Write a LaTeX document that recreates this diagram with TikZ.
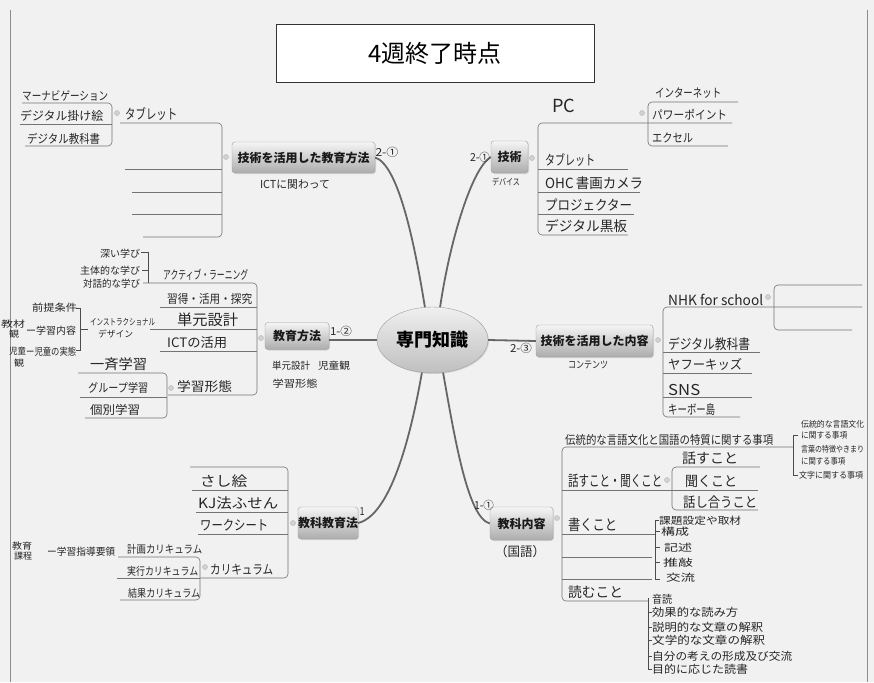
\documentclass[tikz,border=0pt]{standalone}
\usepackage{fontspec}
\usepackage{graphicx}
\usetikzlibrary{shapes.geometric,shadows}
\newfontfamily\jp{Noto Sans CJK JP}
\definecolor{bg}{RGB}{241,241,241}
\newcommand{\hwtext}[3]{\resizebox{#1pt}{\height}{\fontsize{#2}{#2}\selectfont\jp #3}}
\newcommand{\uitem}[6]{\node[hw] (#1) at (#2,#3) {\hwtext{#4}{#5}{#6}};}
\begin{document}
\begin{tikzpicture}[x=1pt,y=-1pt,
  tline/.style={draw=black!55,line width=0.6pt},
  bline/.style={draw=black!70,line width=0.6pt},
  cline/.style={draw=black!60,line width=1.8pt},
  hw/.style={anchor=base west,inner sep=0pt,text=black!85},
  lab/.style={inner sep=0pt,text=black!85},
  dotmark/.style={circle,fill=gray!35,draw=gray!60,line width=0.4pt,inner sep=0pt,minimum size=5pt},
  mnode/.style={draw=gray!75,rounded corners=3pt,top color=gray!8,bottom color=gray!65,inner sep=0pt,text=black!90,
    font=\jp\bfseries\fontsize{12}{12}\selectfont,drop shadow={opacity=0.25,shadow xshift=1pt,shadow yshift=-1pt}}]
\useasboundingbox (0,0) rectangle (874,682);
\fill[bg] (0,0) rectangle (874,682);
\draw[black!45,line width=0.8pt] (10,10) -- (10,682) (867,10) -- (867,682);

% title
\node[draw=black!80,fill=white,line width=0.8pt,minimum width=318pt,minimum height=58pt,inner sep=0pt,
  font=\jp\fontsize{24}{24}\selectfont] (title) at (435,53) {4週終了時点};

% central and main nodes
\node[ellipse,draw=gray!75,top color=gray!12,bottom color=gray!50,minimum width=111pt,minimum height=66pt,inner sep=0pt,
  font=\jp\bfseries\fontsize{18}{18}\selectfont,drop shadow={opacity=0.25,shadow xshift=1pt,shadow yshift=-1pt}] (ctr) at (432.5,340) {専門知識};
\node[mnode,minimum width=143pt,minimum height=31pt] (n1) at (303.5,157.5) {技術を活用した教育方法};
\node[mnode,minimum width=37pt,minimum height=32pt] (n2) at (509.5,157) {技術};
\node[mnode,minimum width=64pt,minimum height=27pt] (n3) at (297,336) {教育方法};
\node[mnode,minimum width=117pt,minimum height=32pt] (n4) at (594.5,341) {技術を活用した内容};
\node[mnode,minimum width=60pt,minimum height=32pt] (n5) at (328,523) {教科教育法};
\node[mnode,minimum width=63pt,minimum height=33pt] (n6) at (521.5,523.5) {教科内容};

% central connectors
\draw[cline] (n1.east) .. controls (398,165) and (414,240) .. (ctr.103);
\draw[cline] (n2.west) .. controls (472,168) and (450,240) .. (ctr.77);
\draw[cline] ([yshift=-4pt]n3.east) -- (ctr.west);
\draw[cline] (ctr.east) -- (n4.west);
\draw[cline] (ctr.252) .. controls (410,440) and (390,515) .. (n5.east);
\draw[cline] (ctr.288) .. controls (455,440) and (468,518) .. (n6.west);

% connector labels
\node[lab] (k1) at (387,152) {\hwtext{23}{11}{2-①}};
\node[lab] (k2) at (480,157) {\hwtext{20}{11}{2-①}};
\node[lab] (k3) at (341,331) {\hwtext{22}{11}{1-②}};
\node[lab] (k4) at (521,348) {\hwtext{22}{11}{2-③}};
\node[lab] (k5) at (362,512) {\hwtext{5}{11}{1}};
\node[lab] (k6) at (484,505) {\hwtext{20}{11}{1-①}};

% notes under main nodes
\node[lab] (u1) at (295,185) {\hwtext{70}{11}{ICTに関わって}};
\node[lab] (u2) at (506,182) {\hwtext{28}{9}{デバイス}};
\node[lab] (u3a) at (291,366) {\hwtext{38}{10}{単元設計}};
\node[lab] (u3b) at (334,366) {\hwtext{32}{10}{児童観}};
\node[lab] (u3c) at (295,384) {\hwtext{45}{10}{学習形態}};
\node[lab] (u4) at (588,365) {\hwtext{40}{10}{コンテンツ}};
\node[lab] (u6) at (520,552) {\hwtext{50}{13}{（国語）}};

% ---- A: 技術を活用した教育方法
\node[dotmark] (mA) at (226,157) {};
\draw[tline,rounded corners=4pt] (120,123) -- (222,123) -- (222,237) -- (143,237);
\draw[tline] (125,169) -- (222,169) (132,192) -- (222,192) (132,214) -- (222,214);
\uitem{a1}{125}{119}{52}{14}{タブレット}
\node[dotmark] (mA1) at (117,113) {};
\draw[tline,rounded corners=4pt] (22,103) -- (112,103) -- (112,146) -- (25,146);
\draw[tline] (20,124) -- (112,124);
\uitem{a11}{22}{100}{86}{12}{マーナビゲーション}
\uitem{a12}{20}{121}{83}{12}{デジタル掛け絵}
\uitem{a13}{27}{143}{73}{12}{デジタル教科書}

% ---- B: 技術
\node[dotmark] (mB) at (532,158) {};
\draw[tline,rounded corners=4pt] (732,123) -- (538,123) -- (538,235) -- (628,235);
\draw[tline] (538,169) -- (628,169) (538,192) -- (640,192) (538,214) -- (634,214);
\node[dotmark] (mB1) at (642,113) {};
\draw[tline,rounded corners=4pt] (738,102) -- (648,102) -- (648,146) -- (728,146);
\uitem{b1}{552}{113}{23}{18}{PC}
\uitem{b2}{545}{165}{50}{14}{タブレット}
\uitem{b3}{545}{188}{98}{14}{OHC\,書画カメラ}
\uitem{b4}{545}{210}{87}{14}{プロジェクター}
\uitem{b5}{545}{231}{82}{14}{デジタル黒板}
\uitem{b11}{655}{98}{66}{12}{インターネット}
\uitem{b12}{652}{119}{75}{12}{パワーポイント}
\uitem{b13}{652}{142}{41}{12}{エクセル}

% ---- C: 教育方法
\node[dotmark] (mC) at (261,338) {};
\draw[tline,rounded corners=4pt] (143,283) -- (257,283) -- (257,395) -- (168,395);
\draw[tline] (160,307) -- (257,307) (150,329) -- (257,329) (160,351) -- (257,351);
\uitem{c1}{163}{279}{85}{12}{アクティブ・ラーニング}
\uitem{c2}{167}{303}{85}{12}{習得・活用・探究}
\uitem{c3}{177}{325}{61}{15}{単元設計}
\uitem{c4}{167}{347}{60}{13}{ICTの活用}
\uitem{c5}{177}{391}{55}{13}{学習形態}
\draw[bline] (141,252) -- (148,252) -- (148,283) (142,270) -- (148,270);
\uitem{c11}{100}{257}{40}{10}{深い学び}
\uitem{c12}{80}{274}{60}{10}{主体的な学び}
\uitem{c13}{83}{287}{57}{10}{対話的な学び}
\uitem{c31}{90}{325}{65}{9}{インストラクショナル}
\uitem{c32}{98}{337}{35}{9}{デザイン}
\draw[bline] (76,308) -- (80,308) -- (80,350) -- (76,350);
\draw[bline] (80,329) -- (88,329);
\uitem{c311}{32}{311}{45}{10}{前提条件}
\uitem{c312}{26}{334}{50}{10}{ー学習内容}
\uitem{c313}{26}{355}{50}{10}{ー児童の実態}
\uitem{c314}{1}{327}{24}{9}{教材}
\uitem{c315}{9}{337}{10}{9}{観}
\uitem{c316}{9}{354}{17}{9}{児童}
\uitem{c317}{14}{366}{10}{9}{観}
\node[dotmark] (mC5) at (171,388) {};
\draw[tline,rounded corners=4pt] (78,373) -- (167,373) -- (167,418) -- (85,418);
\draw[tline] (80,397) -- (167,397);
\uitem{c51}{90}{369}{57}{14}{一斉学習}
\uitem{c52}{88}{392}{60}{12}{グループ学習}
\uitem{c53}{90}{414}{50}{12}{個別学習}

% ---- D: 技術を活用した内容
\node[dotmark] (mD) at (658,340) {};
\draw[tline,rounded corners=4pt] (862,307) -- (663,307) -- (663,417) -- (740,417);
\draw[tline] (663,352) -- (760,352) (663,373) -- (752,373) (663,397) -- (752,397);
\node[dotmark] (mD1) at (768,297) {};
\draw[tline,rounded corners=4pt] (862,285) -- (774,285) -- (774,330) -- (852,330);
\uitem{d1}{668}{305}{95}{14}{NHK for school}
\uitem{d2}{668}{349}{82}{14}{デジタル教科書}
\uitem{d3}{668}{369}{74}{13}{ヤフーキッズ}
\uitem{d4}{668}{395}{32}{15}{SNS}
\uitem{d5}{668}{414}{47}{13}{キーボー島}

% ---- E: 教科教育法
\node[dotmark] (mE) at (293,523) {};
\draw[tline,rounded corners=4pt] (190,467) -- (288,467) -- (288,578) -- (200,578);
\draw[tline] (192,490) -- (288,490) (196,512) -- (288,512) (198,534) -- (288,534);
\uitem{e1}{200}{486}{47}{14}{さし絵}
\uitem{e2}{198}{508}{80}{14}{KJ法ふせん}
\uitem{e3}{200}{530}{68}{14}{ワークシート}
\uitem{e4}{210}{574}{63}{13}{カリキュラム}
\node[dotmark] (mE4) at (205,567) {};
\draw[tline,rounded corners=4pt] (118,557) -- (200,557) -- (200,600) -- (120,600);
\draw[tline] (117,578) -- (200,578);
\uitem{e41}{127}{553}{75}{11}{計画カリキュラム}
\uitem{e42}{127}{575}{71}{11}{実行カリキュラム}
\uitem{e43}{128}{597}{72}{11}{結果カリキュラム}
\uitem{e411}{47}{555}{68}{10}{ー学習指導要領}
\uitem{e412}{12}{549}{20}{9}{教育}
\uitem{e413}{14}{559}{18}{9}{課程}

% ---- F: 教科内容
\node[dotmark] (mF) at (557,518) {};
\draw[tline,rounded corners=4pt] (793,447) -- (562,447) -- (562,601) -- (648,601);
\draw[tline] (562,534) -- (655,534) (562,557) -- (652,557) (562,579) -- (652,579);
\node[dotmark] (mF1) at (667,480) {};
\draw[tline,rounded corners=4pt] (760,467) -- (672,467) -- (672,510) -- (758,510);
\draw[tline] (562,490) -- (758,490);
\uitem{f1}{565}{444}{208}{12}{伝統的な言語文化と国語の特質に関する事項}
\uitem{f2}{568}{486}{94}{15}{話すこと・聞くこと}
\uitem{f3}{568}{530}{49}{15}{書くこと}
\uitem{f4}{568}{597}{55}{14}{読むこと}
\uitem{f21}{682}{463}{56}{14}{話すこと}
\uitem{f22}{685}{486}{52}{14}{聞くこと}
\uitem{f23}{683}{507}{74}{14}{話し合うこと}
\draw[bline] (798,435) -- (793,435) -- (793,475) -- (798,475);
\uitem{f11}{801}{427}{63}{8.5}{伝統的な言語文化}
\uitem{f12}{801}{438}{46}{8.5}{に関する事項}
\uitem{f13}{801}{452}{63}{8.5}{言葉の特徴やきまり}
\uitem{f14}{801}{464}{44}{8.5}{に関する事項}
\uitem{f15}{799}{478}{64}{8.5}{文字に関する事項}
\draw[bline] (659,520) -- (655,520) -- (655,579) -- (660,579);
\draw[bline] (655,531) -- (660,531) (655,547) -- (660,547) (655,562) -- (660,562);
\uitem{f31}{659}{524}{82}{10}{課題設定や取材}
\uitem{f32}{661}{535}{28}{10}{構成}
\uitem{f33}{664}{551}{28}{10}{記述}
\uitem{f34}{663}{566}{30}{10}{推敲}
\uitem{f35}{666}{581}{29}{10}{交流}
\draw[bline] (648,598) -- (648,669);
\draw[bline] (648,612) -- (652,612) (648,627) -- (652,627) (648,640) -- (652,640) (648,656) -- (652,656) (648,669) -- (652,669);
\uitem{f41}{652}{603}{20}{11}{音読}
\uitem{f42}{652}{616}{86}{11}{効果的な読み方}
\uitem{f43}{652}{631}{111}{11}{説明的な文章の解釈}
\uitem{f44}{652}{644}{113}{11}{文学的な文章の解釈}
\uitem{f45}{652}{660}{140}{11}{自分の考えの形成及び交流}
\uitem{f46}{652}{673}{96}{11}{目的に応じた読書}
\end{tikzpicture}
\end{document}
